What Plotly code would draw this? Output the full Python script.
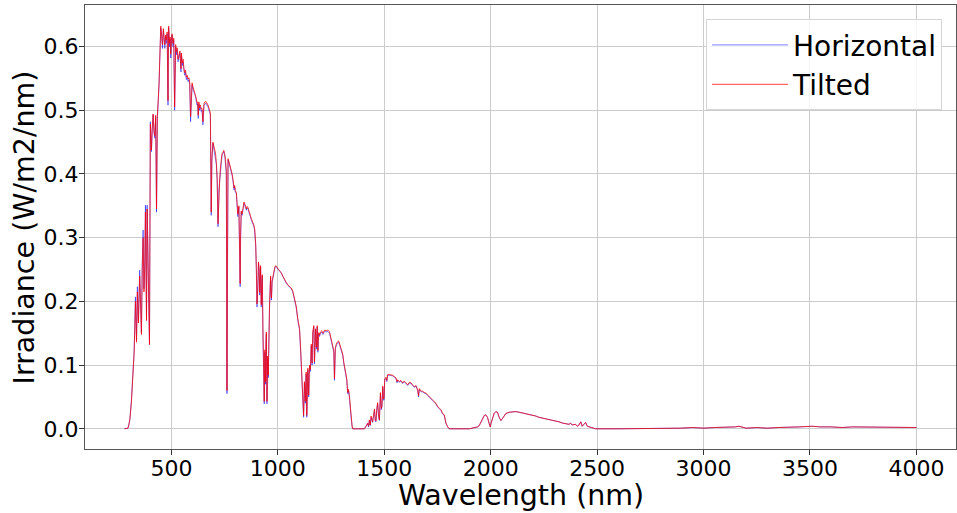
import plotly.graph_objects as go

# Wavelength (nm)
wavelength = [
    280, 290, 296, 300, 305, 312, 320, 325, 328, 331,
    336, 340, 345, 351, 355, 359, 363, 367, 371, 375,
    378, 383, 386, 390, 393, 397, 401, 406, 410, 414,
    418, 422, 426, 430, 434, 438, 442, 445, 448, 450,
    454, 458, 462, 466, 469, 473, 476, 480, 484, 487,
    491, 494, 497, 500, 503, 507, 511, 515, 518, 520,
    523, 527, 531, 535, 540, 545, 547, 551, 555, 558,
    562, 566, 570, 574, 578, 582, 586, 590, 593, 597,
    602, 606, 610, 614, 617, 620, 623, 626, 629, 632,
    636, 640, 644, 648, 653, 657, 661, 665, 668, 672,
    676, 680, 683, 687, 690, 695, 699, 703, 707, 711,
    715, 719, 723, 727, 731, 735, 738, 742, 746, 750,
    754, 758, 761, 763, 766, 770, 773, 777, 781, 785,
    789, 794, 797, 800, 805, 809, 812, 817, 820, 823,
    825, 828, 832, 836, 841, 846, 852, 856, 860, 864,
    867, 871, 875, 879, 883, 887, 891, 896, 899, 902,
    906, 909, 912, 915, 919, 922, 925, 927, 930, 933,
    936, 939, 942, 944, 946, 949, 952, 955, 958, 961,
    964, 966, 968, 970, 973, 977, 981, 986, 990, 993,
    998, 1003, 1010, 1016, 1023, 1031, 1039, 1047, 1055, 1063,
    1070, 1078, 1086, 1094, 1102, 1107, 1110, 1113, 1117, 1121,
    1125, 1129, 1133, 1136, 1139, 1141, 1145, 1149, 1153, 1157,
    1161, 1164, 1169, 1172, 1177, 1181, 1185, 1188, 1192, 1196,
    1200, 1206, 1212, 1220, 1227, 1235, 1243, 1250, 1258, 1263,
    1266, 1270, 1274, 1279, 1286, 1290, 1294, 1300, 1305, 1310,
    1316, 1320, 1324, 1328, 1332, 1336, 1340, 1344, 1349, 1352,
    1380, 1407, 1415, 1422, 1426, 1430, 1434, 1438, 1445, 1454,
    1458, 1461, 1465, 1469, 1473, 1477, 1482, 1486, 1489, 1493,
    1496, 1499, 1502, 1508, 1512, 1516, 1524, 1532, 1540, 1547,
    1555, 1560, 1563, 1571, 1578, 1586, 1594, 1602, 1610, 1618,
    1626, 1633, 1641, 1649, 1657, 1661, 1665, 1673, 1680, 1688,
    1696, 1704, 1712, 1719, 1727, 1735, 1743, 1751, 1758, 1766,
    1774, 1782, 1786, 1790, 1798, 1805, 1900, 1938, 1946, 1954,
    1962, 1970, 1977, 1985, 1993, 1998, 2001, 2008, 2016, 2024,
    2032, 2040, 2048, 2055, 2063, 2071, 2087, 2102, 2118, 2134,
    2149, 2165, 2180, 2196, 2212, 2227, 2243, 2259, 2274, 2290,
    2305, 2321, 2337, 2352, 2368, 2375, 2383, 2399, 2407, 2415,
    2423, 2430, 2438, 2446, 2454, 2462, 2478, 2493, 2600, 2750,
    2892, 2950, 3000, 3050, 3100, 3150, 3166, 3200, 3250, 3300,
    3350, 3400, 3450, 3509, 3550, 3600, 3650, 3700, 3750, 3800,
    3850, 3900, 3950, 4000,
]

# Irradiance on a horizontal plane (W/m2/nm)
horizontal = [
    0.0, 0.0, 0.001, 0.006, 0.016, 0.044, 0.086, 0.123, 0.165, 0.207,
    0.139, 0.223, 0.17, 0.249, 0.2, 0.152, 0.26, 0.312, 0.22, 0.265,
    0.351, 0.175, 0.351, 0.275, 0.2, 0.134, 0.482, 0.435, 0.47, 0.493,
    0.465, 0.456, 0.49, 0.34, 0.487, 0.51, 0.54, 0.576, 0.6, 0.629,
    0.615, 0.597, 0.625, 0.6, 0.597, 0.615, 0.605, 0.62, 0.508, 0.629,
    0.6, 0.612, 0.582, 0.607, 0.618, 0.6, 0.61, 0.5, 0.565, 0.6,
    0.587, 0.595, 0.576, 0.585, 0.59, 0.56, 0.587, 0.57, 0.576, 0.565,
    0.555, 0.56, 0.548, 0.552, 0.545, 0.548, 0.54, 0.482, 0.53, 0.54,
    0.532, 0.529, 0.525, 0.52, 0.515, 0.508, 0.51, 0.487, 0.51, 0.5,
    0.505, 0.498, 0.5, 0.477, 0.508, 0.51, 0.511, 0.508, 0.508, 0.505,
    0.5, 0.497, 0.493, 0.335, 0.42, 0.448, 0.44, 0.438, 0.43, 0.415,
    0.39, 0.317, 0.375, 0.39, 0.411, 0.425, 0.43, 0.432, 0.435, 0.43,
    0.42, 0.401, 0.055, 0.25, 0.422, 0.418, 0.414, 0.41, 0.406, 0.398,
    0.39, 0.375, 0.38, 0.372, 0.369, 0.35, 0.333, 0.348, 0.28, 0.223,
    0.3, 0.34, 0.335, 0.348, 0.354, 0.35, 0.343, 0.347, 0.345, 0.34,
    0.338, 0.333, 0.328, 0.325, 0.322, 0.318, 0.312, 0.286, 0.249, 0.191,
    0.22, 0.26, 0.25, 0.21, 0.254, 0.191, 0.23, 0.24, 0.149, 0.076,
    0.039, 0.12, 0.07, 0.13, 0.149, 0.039, 0.11, 0.08, 0.16, 0.191,
    0.22, 0.238, 0.21, 0.202, 0.23, 0.238, 0.249, 0.252, 0.255, 0.254,
    0.252, 0.249, 0.247, 0.244, 0.239, 0.233, 0.229, 0.225, 0.222, 0.22,
    0.215, 0.201, 0.191, 0.17, 0.155, 0.123, 0.102, 0.071, 0.034, 0.018,
    0.071, 0.04, 0.086, 0.018, 0.06, 0.092, 0.05, 0.097, 0.09, 0.13,
    0.1, 0.149, 0.16, 0.102, 0.155, 0.125, 0.16, 0.12, 0.149, 0.145,
    0.15, 0.152, 0.148, 0.153, 0.152, 0.153, 0.15, 0.139, 0.128, 0.12,
    0.076, 0.125, 0.13, 0.134, 0.136, 0.132, 0.128, 0.123, 0.115, 0.102,
    0.092, 0.085, 0.076, 0.055, 0.06, 0.05, 0.03, 0.018, 0.003, 0.0,
    0.0, 0.0, 0.004, 0.008, 0.003, 0.013, 0.005, 0.018, 0.01, 0.029,
    0.012, 0.011, 0.03, 0.039, 0.02, 0.013, 0.055, 0.03, 0.034, 0.065,
    0.045, 0.045, 0.076, 0.079, 0.074, 0.084, 0.084, 0.084, 0.083, 0.081,
    0.079, 0.072, 0.076, 0.073, 0.075, 0.071, 0.074, 0.071, 0.068, 0.072,
    0.071, 0.068, 0.065, 0.067, 0.06, 0.05, 0.062, 0.058, 0.058, 0.056,
    0.055, 0.052, 0.05, 0.047, 0.044, 0.042, 0.039, 0.034, 0.032, 0.029,
    0.023, 0.021, 0.014, 0.008, 0.003, 0.0, 0.0, 0.003, 0.005, 0.01,
    0.017, 0.021, 0.022, 0.018, 0.008, 0.003, 0.008, 0.016, 0.024, 0.027,
    0.026, 0.018, 0.013, 0.016, 0.021, 0.024, 0.026, 0.027, 0.027, 0.026,
    0.025, 0.024, 0.023, 0.022, 0.02, 0.018, 0.017, 0.016, 0.015, 0.013,
    0.012, 0.011, 0.009, 0.008, 0.007, 0.009, 0.006, 0.007, 0.004, 0.006,
    0.011, 0.004, 0.007, 0.01, 0.004, 0.003, 0.002, 0.0, 0.0, 0.0,
    0.001, 0.002, 0.001, 0.002, 0.002, 0.003, 0.004, 0.001, 0.002, 0.001,
    0.002, 0.002, 0.003, 0.004, 0.003, 0.003, 0.002, 0.003, 0.003, 0.002,
    0.002, 0.002, 0.002, 0.002,
]

# Irradiance on a tilted plane (W/m2/nm)
tilted = [
    0.0, 0.0, 0.001, 0.006, 0.015, 0.042, 0.084, 0.12, 0.16, 0.2,
    0.136, 0.215, 0.166, 0.24, 0.196, 0.148, 0.25, 0.3, 0.215, 0.258,
    0.34, 0.17, 0.345, 0.27, 0.196, 0.132, 0.478, 0.438, 0.472, 0.494,
    0.468, 0.46, 0.492, 0.345, 0.49, 0.513, 0.543, 0.578, 0.603, 0.632,
    0.618, 0.603, 0.628, 0.605, 0.603, 0.618, 0.61, 0.623, 0.515, 0.632,
    0.605, 0.615, 0.588, 0.61, 0.62, 0.605, 0.613, 0.505, 0.57, 0.603,
    0.592, 0.598, 0.58, 0.588, 0.593, 0.565, 0.59, 0.574, 0.58, 0.568,
    0.559, 0.563, 0.552, 0.555, 0.549, 0.551, 0.544, 0.49, 0.534, 0.543,
    0.536, 0.532, 0.528, 0.523, 0.518, 0.512, 0.513, 0.492, 0.513, 0.504,
    0.508, 0.502, 0.503, 0.482, 0.511, 0.513, 0.514, 0.511, 0.511, 0.508,
    0.503, 0.5, 0.496, 0.34, 0.424, 0.45, 0.443, 0.44, 0.433, 0.418,
    0.393, 0.322, 0.378, 0.393, 0.413, 0.427, 0.432, 0.434, 0.437, 0.432,
    0.423, 0.404, 0.06, 0.255, 0.424, 0.42, 0.416, 0.412, 0.408, 0.4,
    0.392, 0.378, 0.382, 0.374, 0.371, 0.353, 0.337, 0.35, 0.284, 0.228,
    0.304, 0.342, 0.337, 0.35, 0.356, 0.352, 0.345, 0.349, 0.347, 0.342,
    0.34, 0.335, 0.33, 0.327, 0.324, 0.32, 0.314, 0.29, 0.253, 0.196,
    0.224, 0.262, 0.252, 0.214, 0.256, 0.195, 0.233, 0.242, 0.154, 0.08,
    0.043, 0.124, 0.074, 0.133, 0.152, 0.043, 0.114, 0.084, 0.163, 0.194,
    0.223, 0.24, 0.213, 0.205, 0.232, 0.24, 0.251, 0.254, 0.256, 0.255,
    0.253, 0.25, 0.248, 0.245, 0.24, 0.234, 0.23, 0.226, 0.223, 0.221,
    0.216, 0.203, 0.193, 0.172, 0.157, 0.126, 0.105, 0.074, 0.037, 0.021,
    0.074, 0.043, 0.089, 0.021, 0.063, 0.095, 0.053, 0.1, 0.093, 0.133,
    0.103, 0.152, 0.162, 0.105, 0.157, 0.128, 0.162, 0.123, 0.151, 0.147,
    0.152, 0.154, 0.15, 0.155, 0.154, 0.155, 0.152, 0.141, 0.13, 0.122,
    0.079, 0.127, 0.132, 0.136, 0.138, 0.134, 0.13, 0.125, 0.117, 0.104,
    0.094, 0.087, 0.078, 0.057, 0.062, 0.052, 0.032, 0.02, 0.004, 0.0,
    0.0, 0.0, 0.005, 0.009, 0.004, 0.014, 0.006, 0.02, 0.011, 0.031,
    0.013, 0.012, 0.032, 0.041, 0.022, 0.014, 0.057, 0.032, 0.036, 0.067,
    0.047, 0.047, 0.078, 0.081, 0.076, 0.085, 0.085, 0.085, 0.084, 0.082,
    0.08, 0.074, 0.077, 0.074, 0.076, 0.072, 0.075, 0.072, 0.069, 0.073,
    0.072, 0.069, 0.066, 0.068, 0.061, 0.052, 0.063, 0.059, 0.059, 0.057,
    0.056, 0.053, 0.051, 0.048, 0.045, 0.043, 0.04, 0.035, 0.033, 0.03,
    0.024, 0.022, 0.015, 0.009, 0.003, 0.0, 0.0, 0.003, 0.005, 0.01,
    0.017, 0.021, 0.022, 0.018, 0.008, 0.003, 0.008, 0.016, 0.024, 0.027,
    0.026, 0.018, 0.013, 0.016, 0.021, 0.024, 0.026, 0.027, 0.027, 0.026,
    0.025, 0.024, 0.023, 0.022, 0.02, 0.018, 0.017, 0.016, 0.015, 0.013,
    0.012, 0.011, 0.009, 0.008, 0.007, 0.009, 0.006, 0.007, 0.004, 0.006,
    0.011, 0.004, 0.007, 0.01, 0.004, 0.003, 0.002, 0.0, 0.0, 0.0,
    0.001, 0.002, 0.001, 0.002, 0.002, 0.003, 0.004, 0.001, 0.002, 0.001,
    0.002, 0.002, 0.003, 0.004, 0.003, 0.003, 0.002, 0.003, 0.003, 0.002,
    0.002, 0.002, 0.002, 0.002,
]

x_ticks = [500, 1000, 1500, 2000, 2500, 3000, 3500, 4000]
y_ticks = [0.0, 0.1, 0.2, 0.3, 0.4, 0.5, 0.6]
x_title = "Wavelength (nm)"
y_title = "Irradiance (W/m2/nm)"

FONT = "DejaVu Sans"

fig = go.Figure()
fig.add_trace(go.Scatter(
    x=wavelength, y=horizontal, mode="lines", name="Horizontal",
    line=dict(color="rgba(0,0,255,0.5)", width=1),
))
fig.add_trace(go.Scatter(
    x=wavelength, y=tilted, mode="lines", name="Tilted",
    line=dict(color="rgba(255,0,0,0.75)", width=1),
))

axis_common = dict(
    showgrid=True, gridcolor="#cccccc", gridwidth=1,
    showline=True, linecolor="#555555", linewidth=1, mirror=True,
    ticks="outside", ticklen=5, tickwidth=1, tickcolor="#333333",
    tickfont=dict(family=FONT, size=22, color="black"),
    zeroline=False, automargin=False,
)

fig.update_layout(
    width=957, height=513,
    margin=dict(l=85, r=1, t=5, b=64),
    paper_bgcolor="white", plot_bgcolor="white",
    font=dict(family=FONT, color="black"),
    xaxis=dict(
        range=[94, 4186], tickvals=x_ticks,
        ticktext=[str(v) for v in x_ticks],
        ticklabelstandoff=-5,
        **axis_common,
    ),
    yaxis=dict(
        range=[-0.0317, 0.6652], tickvals=y_ticks,
        ticktext=[f"{v:.1f}" for v in y_ticks],
        ticklabelstandoff=-4,
        **axis_common,
    ),
    legend=dict(
        x=0.984, y=0.968, xanchor="right", yanchor="top",
        bgcolor="rgba(255,255,255,0.8)", bordercolor="#d5d5d5", borderwidth=1,
        font=dict(family=FONT, size=28, color="black"),
        itemwidth=76,
    ),
    showlegend=True,
    annotations=[
        dict(text=x_title, xref="paper", yref="paper", x=0.5, y=-0.104,
             xanchor="center", yanchor="middle", showarrow=False, borderpad=0,
             font=dict(family=FONT, size=28.5, color="black")),
        dict(text=y_title, xref="paper", yref="paper", x=-0.0695, y=0.5,
             xanchor="center", yanchor="middle", showarrow=False, textangle=-90,
             borderpad=0,
             font=dict(family=FONT, size=28.5, color="black")),
    ],
)

fig.write_html(
    "out.html",
    config={"displayModeBar": False},
    post_script="document.body.style.margin='0px';document.body.style.overflow='hidden';",
)
